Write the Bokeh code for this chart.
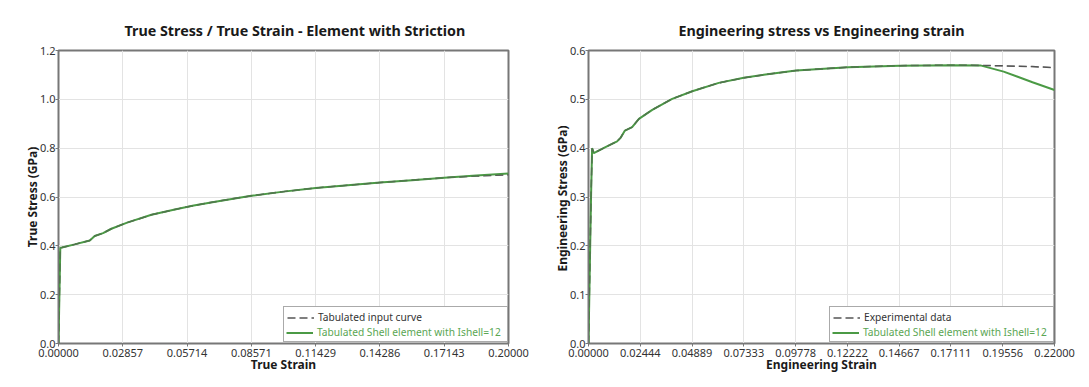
from bokeh.plotting import figure
from bokeh.layouts import row
from bokeh.models import FixedTicker, Legend, LegendItem, NumeralTickFormatter, Range1d
from bokeh.embed import file_html
from bokeh.resources import INLINE

FONT = "Noto Sans"
GREEN = "#4b9a45"
GREEN_TXT = "#5aa653"
DASH = "#555555"

# ---- Left chart: true stress / true strain ----
true_strain_input = [0, 0.0008, 0.0015, 0.0072, 0.0139, 0.0161, 0.0198, 0.0235, 0.0305, 0.0413,
                     0.0517, 0.0601, 0.071, 0.0857, 0.1, 0.1143, 0.1286, 0.1429, 0.1571, 0.1714,
                     0.1857, 0.2]
true_stress_input = [0, 0.392, 0.393, 0.406, 0.422, 0.440, 0.452, 0.470, 0.495, 0.527,
                     0.549, 0.565, 0.583, 0.605, 0.622, 0.637, 0.648, 0.659, 0.669, 0.679,
                     0.686, 0.691]
true_strain_shell = [0, 0.0008, 0.0015, 0.0072, 0.0139, 0.0161, 0.0198, 0.0235, 0.0305, 0.0413,
                     0.0517, 0.0601, 0.071, 0.0857, 0.1, 0.1143, 0.1286, 0.1429, 0.1571, 0.1714,
                     0.1857, 0.2]
true_stress_shell = [0, 0.392, 0.393, 0.406, 0.422, 0.440, 0.452, 0.470, 0.495, 0.527,
                     0.549, 0.565, 0.583, 0.605, 0.622, 0.637, 0.648, 0.659, 0.669, 0.679,
                     0.688, 0.696]

# ---- Right chart: engineering stress / engineering strain ----
eng_strain_exp = [0, 0.0012, 0.0017, 0.0025, 0.008, 0.0135, 0.0151, 0.0172, 0.0206, 0.0238,
                  0.0301, 0.0395, 0.049, 0.0615, 0.0733, 0.0836, 0.098, 0.1226, 0.147, 0.1714,
                  0.185, 0.196, 0.2096, 0.22]
eng_stress_exp = [0, 0.30, 0.400, 0.390, 0.402, 0.414, 0.421, 0.436, 0.443, 0.460,
                  0.4785, 0.501, 0.5166, 0.5337, 0.544, 0.5507, 0.5589, 0.5657, 0.569, 0.5698,
                  0.5695, 0.5685, 0.567, 0.565]
eng_strain_shell = [0, 0.0012, 0.0017, 0.0025, 0.008, 0.0135, 0.0151, 0.0172, 0.0206, 0.0238,
                    0.0301, 0.0395, 0.049, 0.0615, 0.0733, 0.0836, 0.098, 0.1226, 0.147, 0.1714,
                    0.185, 0.196, 0.2096, 0.22]
eng_stress_shell = [0, 0.30, 0.400, 0.390, 0.402, 0.414, 0.421, 0.436, 0.443, 0.460,
                    0.4785, 0.501, 0.5166, 0.5337, 0.544, 0.5507, 0.5589, 0.5657, 0.569, 0.5698,
                    0.5695, 0.5568, 0.535, 0.519]

left_xticks = [0.0, 0.02857, 0.05714, 0.08571, 0.11429, 0.14286, 0.17143, 0.2]
left_yticks = [0.0, 0.2, 0.4, 0.6, 0.8, 1.0, 1.2]
right_xticks = [0.0, 0.02444, 0.04889, 0.07333, 0.09778, 0.12222, 0.14667, 0.17111, 0.19556, 0.22]
right_yticks = [0.0, 0.1, 0.2, 0.3, 0.4, 0.5, 0.6]


def make_fig(title, xs_in, ys_in, xs_sh, ys_sh, lbl_in, lbl_sh, xlabel, ylabel,
             xticks, yticks, xmax, ymax, width, bl, br, title_align, title_offset):
    height = 386
    bt, bb = 50, 43
    p = figure(width=width, height=height, title=title, output_backend="svg",
               toolbar_location=None, x_range=Range1d(0, xmax), y_range=Range1d(0, ymax),
               min_border_left=bl, min_border_right=br, min_border_top=bt, min_border_bottom=bb)
    fw = width - bl - br
    p.title.align = title_align
    p.title.offset = title_offset
    p.title.text_font = FONT
    p.title.text_font_size = "14.3px"
    p.title.text_font_style = "bold"
    p.title.text_color = "#1a1a1a"
    p.title.standoff = 22

    p.outline_line_color = "#777777"
    p.outline_line_width = 2
    p.background_fill_color = "white"
    p.border_fill_color = "white"

    for ax in (p.xaxis[0], p.yaxis[0]):
        ax.axis_line_color = "#777777"
        ax.axis_line_width = 1
        ax.major_tick_in = 0
        ax.major_tick_out = 3
        ax.major_tick_line_color = "#777777"
        ax.minor_tick_line_color = None
        ax.major_label_text_font = FONT
        ax.major_label_text_font_size = "11px"
        ax.major_label_text_color = "#333333"
        ax.axis_label_text_font = FONT
        ax.axis_label_text_font_size = "12px"
        ax.axis_label_text_font_style = "bold"
        ax.axis_label_text_color = "#1a1a1a"
    p.xaxis.major_label_standoff = 2
    p.xaxis.axis_label_standoff = -4
    p.yaxis.major_label_standoff = 0
    p.yaxis.axis_label_standoff = -4
    p.xaxis.axis_label = xlabel
    p.yaxis.axis_label = ylabel
    p.xaxis.ticker = FixedTicker(ticks=xticks)
    p.yaxis.ticker = FixedTicker(ticks=yticks)
    p.xaxis.formatter = NumeralTickFormatter(format="0.00000")
    p.yaxis.formatter = NumeralTickFormatter(format="0.0")
    p.xgrid.ticker = FixedTicker(ticks=xticks)
    p.ygrid.ticker = FixedTicker(ticks=yticks)
    p.grid.grid_line_color = "#e3e3e3"
    p.grid.grid_line_width = 1

    # full-strength dashed curve (mostly hidden under the green one, used for the legend)
    r_in_leg = p.line(xs_in, ys_in, line_color=DASH, line_width=1.5, line_dash="8 4")
    r_sh = p.line(xs_sh, ys_sh, line_color=GREEN, line_width=2)
    p.line(xs_in, ys_in, line_color=DASH, line_width=1.1, line_dash="8 4", line_alpha=0.6)

    pad, gw, gs, lw = 3, 27, 4, 186
    leg_w = 2 * pad + gw + gs + lw
    ax0 = fw - leg_w - 2
    ay0 = 1
    common = dict(glyph_width=gw, glyph_height=11, label_height=11, label_width=lw,
                  label_standoff=gs, spacing=0, label_text_font=FONT,
                  label_text_font_size="10.2px", label_text_line_height=0.75,
                  background_fill_color="white", background_fill_alpha=1.0,
                  click_policy="none")
    legA = Legend(items=[LegendItem(label=lbl_in, renderers=[r_in_leg]),
                         LegendItem(label=lbl_sh, renderers=[r_sh])],
                  location=(ax0, ay0), padding=pad, border_line_color="#555555",
                  border_line_width=1.5, label_text_color="#333333", **common)
    legB = Legend(items=[LegendItem(label=lbl_sh, renderers=[r_sh])],
                  location=(ax0 + pad, ay0 + pad), padding=0, border_line_alpha=0,
                  label_text_color=GREEN_TXT, **common)
    p.add_layout(legA)
    p.add_layout(legB)
    return p


p1 = make_fig("True Stress / True Strain - Element with Striction",
              true_strain_input, true_stress_input, true_strain_shell, true_stress_shell,
              "Tabulated input curve", "Tabulated Shell element with Ishell=12",
              "True Strain", "True Stress (GPa)", left_xticks, left_yticks, 0.2, 1.2,
              540, 58, 32, "left", 66)
p2 = make_fig("Engineering stress vs Engineering strain",
              eng_strain_exp, eng_stress_exp, eng_strain_shell, eng_stress_shell,
              "Experimental data", "Tabulated Shell element with Ishell=12",
              "Engineering Strain", "Engineering Stress  (GPa)", right_xticks, right_yticks,
              0.22, 0.6, 549, 48, 35, "center", 0)

layout = row(p1, p2)
open("out.html", "w").write(file_html(layout, INLINE))
